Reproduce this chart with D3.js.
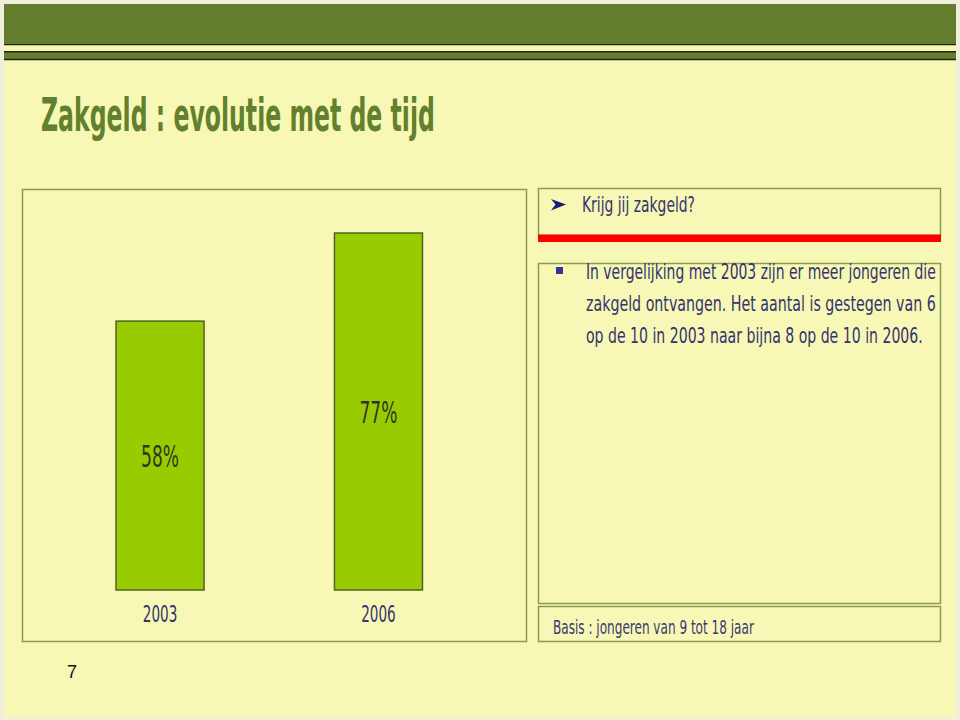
<!DOCTYPE html>
<html>
<head>
<meta charset="utf-8">
<script src="https://cdn.jsdelivr.net/npm/d3@7"></script>
<style>
  body { margin: 0; background: #eef0dc; }
  svg { display: block; }
</style>
</head>
<body>
<div id="slide"></div>
<script>
// Data
const years = ["2003", "2006"];
const shares = [58, 77];               // % of youngsters who get pocket money
const titleText = "Zakgeld : evolutie met de tijd";
const questionText = "Krijg jij zakgeld?";
const bodyLines = [
    "In vergelijking met 2003 zijn er meer jongeren die",
    "zakgeld ontvangen. Het aantal is gestegen van 6",
    "op de 10 in 2003 naar bijna 8 op de 10 in 2006."
];
const baseText = "Basis : jongeren van 9 tot 18 jaar";
const pageNumber = "7";

const width = 960;
const height = 720;
const condensed = "'Liberation Sans Narrow', 'DejaVu Sans Condensed', 'Roboto Condensed', 'Liberation Sans', sans-serif";
const navy = "#34346f";
const boxStroke = "#8b9a4e";

const svg = d3.select("#slide")
    .append("svg")
    .attr("width", width)
    .attr("height", height);

// squeeze a text horizontally so it takes the width it has on the slide
// anchor: "start" or "middle"
function fitText(sel, x, y, targetWidth, anchor) {
    sel.attr("x", 0).attr("y", 0)
        .attr("text-anchor", anchor || "start");
    const natural = sel.node().getComputedTextLength();
    const k = natural > 0 ? targetWidth / natural : 1;
    sel.attr("transform", `translate(${x},${y}) scale(${k},1)`);
    return sel;
}

// slide background + header bands
svg.append("rect")
    .attr("x", 4).attr("y", 4)
    .attr("width", 952).attr("height", 713)
    .attr("fill", "#f7f8b6");

svg.append("rect")
    .attr("x", 4).attr("y", 4)
    .attr("width", 952).attr("height", 40.5)
    .attr("fill", "#647d2e");
svg.append("rect")
    .attr("x", 4).attr("y", 52)
    .attr("width", 952).attr("height", 7.5)
    .attr("fill", "#647d2e");

svg.append("g")
    .selectAll("line")
    .data([44.6, 51.8, 59.5])
    .join("line")
    .attr("x1", 4).attr("x2", 956)
    .attr("y1", d => d).attr("y2", d => d)
    .attr("stroke", "#1c2810")
    .attr("stroke-width", 1.4);

// title
const title = svg.append("text")
    .attr("font-family", condensed)
    .attr("font-size", 47)
    .attr("font-weight", "bold")
    .attr("fill", "#62802d")
    .text(titleText);
fitText(title, 41, 131, 394);

// CHART BOX
svg.append("rect")
    .attr("x", 22.5).attr("y", 189.5)
    .attr("width", 504).attr("height", 452)
    .attr("fill", "none")
    .attr("stroke", boxStroke)
    .attr("stroke-width", 1.5);

const x = d3.scaleBand()
    .domain(years)
    .range([50.5, 488])
    .paddingInner(0.597)
    .paddingOuter(0.3);

const y = d3.scaleLinear()
    .domain([0, 100])
    .range([590, 126.4]);

const data = years.map((yr, i) => ({ year: yr, value: shares[i] }));

svg.append("g")
    .selectAll("rect")
    .data(data)
    .join("rect")
    .attr("x", d => x(d.year))
    .attr("y", d => y(d.value))
    .attr("width", x.bandwidth())
    .attr("height", d => y(0) - y(d.value))
    .attr("fill", "#99cc00")
    .attr("stroke", "#4f6228")
    .attr("stroke-width", 1.5);

// value labels in the middle of each bar
svg.append("g")
    .selectAll("text")
    .data(data)
    .join("text")
    .attr("font-family", condensed)
    .attr("font-size", 31)
    .attr("fill", "#2f3527")
    .text(d => d.value + "%")
    .each(function (d) {
        fitText(d3.select(this), x(d.year) + x.bandwidth() / 2, y(d.value / 2) + 11.5, 38, "middle");
    });

// category axis (no line, only labels)
const xAxis = svg.append("g")
    .attr("transform", `translate(0, ${y(0)})`)
    .call(d3.axisBottom(x).tickSize(0).tickPadding(32));
xAxis.select(".domain").remove();
xAxis.selectAll("text")
    .attr("dy", 0)
    .attr("font-family", condensed)
    .attr("font-size", 23)
    .attr("fill", navy)
    .each(function () {
        fitText(d3.select(this), 0, 32, 34.5, "middle");
    });

// RIGHT: question box with red bar
svg.append("rect")
    .attr("x", 538.5).attr("y", 188.5)
    .attr("width", 402).attr("height", 47)
    .attr("fill", "none")
    .attr("stroke", boxStroke)
    .attr("stroke-width", 1.5);
svg.append("rect")
    .attr("x", 538).attr("y", 234.5)
    .attr("width", 403).attr("height", 7.5)
    .attr("fill", "#ff0000");

svg.append("path")
    .attr("d", "M551,199 L566,204.5 L551,210.5 L555.5,204.5 Z")
    .attr("fill", "#1b1b7c");

const question = svg.append("text")
    .attr("font-family", condensed)
    .attr("font-size", 22)
    .attr("fill", navy)
    .text(questionText);
fitText(question, 582, 212, 113);

// RIGHT: body text box
svg.append("rect")
    .attr("x", 538.5).attr("y", 263.5)
    .attr("width", 402).attr("height", 340)
    .attr("fill", "none")
    .attr("stroke", boxStroke)
    .attr("stroke-width", 1.5);

svg.append("rect")
    .attr("x", 556).attr("y", 267)
    .attr("width", 7).attr("height", 7)
    .attr("fill", "#333399");

const lineLengths = [350, 350, 337];
svg.append("g")
    .selectAll("text")
    .data(bodyLines)
    .join("text")
    .attr("font-family", condensed)
    .attr("font-size", 22)
    .attr("fill", navy)
    .text(d => d)
    .each(function (d, i) {
        fitText(d3.select(this), 586, 279 + i * 32, lineLengths[i]);
    });

// RIGHT: base note box
svg.append("rect")
    .attr("x", 538.5).attr("y", 606.5)
    .attr("width", 402).attr("height", 35)
    .attr("fill", "none")
    .attr("stroke", boxStroke)
    .attr("stroke-width", 1.5);

const base = svg.append("text")
    .attr("font-family", condensed)
    .attr("font-size", 19)
    .attr("fill", "#3a3a6e")
    .text(baseText);
fitText(base, 553, 634, 201);

// page number
svg.append("text")
    .attr("x", 72)
    .attr("y", 678)
    .attr("text-anchor", "middle")
    .attr("font-family", "'Liberation Sans', Arial, sans-serif")
    .attr("font-size", 18)
    .attr("fill", "#111")
    .text(pageNumber);
</script>
</body>
</html>
